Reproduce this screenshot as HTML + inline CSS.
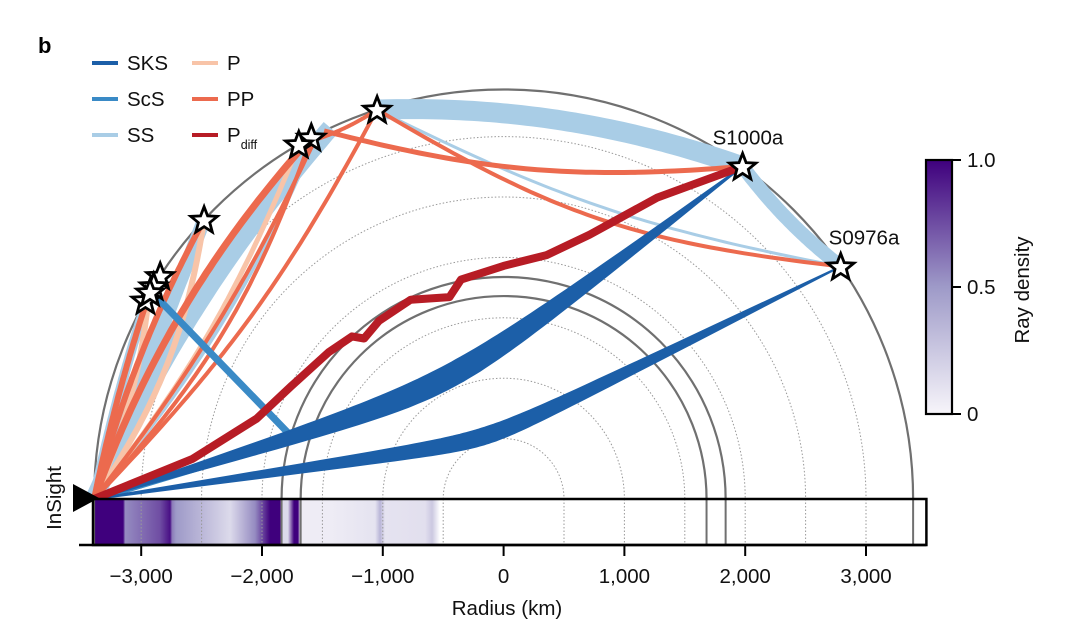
<!DOCTYPE html>
<html><head><meta charset="utf-8">
<style>
body{margin:0;background:#fff;}
svg{display:block;font-family:"Liberation Sans",Arial,sans-serif;}
</style></head>
<body>
<svg id="chart" width="1080" height="642" viewBox="0 0 1080 642" xmlns="http://www.w3.org/2000/svg">
<defs>
<linearGradient id="densGrad" x1="0" x2="1" y1="0" y2="0"></linearGradient>
<linearGradient id="cbGrad" x1="0" x2="0" y1="1" y2="0">
<stop offset="0" stop-color="#f7f5fa"/><stop offset="0.5" stop-color="#9e9ac8"/><stop offset="1" stop-color="#3f007d"/>
</linearGradient>
</defs>
<g id="layers"></g>
</svg>
<script>
// ---- data ----
const R_MARS = 3390;
const coreRadii = [1680, 1838];
const dottedRadii = [500, 1000, 1500, 2000, 2500, 3000];
const xTicks = [-3000, -2000, -1000, 0, 1000, 2000, 3000];
const xTickLabels = ["\u22123,000", "\u22122,000", "\u22121,000", "0", "1,000", "2,000", "3,000"];
const eventNames = ["S1000a", "S0976a"];
const eventAngles = [54.3, 34.6];
const otherEventAngles = [108, 118, 120, 137, 147, 148.7, 151, 149.7];
// rays: phase, start angle (deg), end angle (deg), bottoming radius (km), width
const rayPhase = ["SS","SS","SS","SS","SS","SS","SS","P","P","P","PP","PP","PP","PP","PP","PP","PP","PP","PP"];
const rayFrom  = [108,54.3,180,108,117,180,180,180,180,180,180,108,54.3,108,118,180,180,180,108];
const rayTo    = [54.3,34.6,115,34.6,180,137,150,137,120,150,117,34.6,116,180,180,118,137,150,120];
const rayBottom= [3170,3300,3000,2550,2750,3150,3300,3000,2800,3200,2780,2450,2740,2580,2700,3080,3230,3300,3340];
const rayWidth = [20,14,18,3,4,14,10,6,5,6,4,4,5,4,4,7,6,6,4];
// ScS legs (angle deg, radius km)
const scsAngles = [149.5, 164, 180];
const scsRadii = [3390, 1806, 3390];
// SKS bands: to angle, inner and outer bottoming radius
const sksTo = [54.3, 34.6];
const sksInner = [1020, 480];
const sksOuter = [1200, 610];
// Pdiff path
const pdiffAngles = [180,172.7,162,152,140,133,131,125,115,105,101,90,80,72,63,54.3];
const pdiffRadii  = [3390,2600,2150,1990,1890,1840,1760,1800,1820,1730,1850,1930,2050,2300,2800,3390];
// Ray density profile along radius axis
const densKm  = [-3399,-3150,-3133,-2844,-2761,-2744,-2711,-2512,-2264,-2057,-1933,-1851,-1834,-1785,-1735,-1702,-1685,-1437,-1064,-1022,-981,-650,-592,-527,3500];
const densVal = [1.0,1.0,0.55,0.75,0.95,0.6,0.5,0.35,0.15,0.55,1.0,1.0,0.15,0.15,1.0,1.0,0.05,0.05,0.1,0.35,0.1,0.12,0.25,0,0];
const cbTicks = [0, 0.5, 1.0];
const cbLabels = ["0", "0.5", "1.0"];

// ---- scales ----
const S = 120.8/1000, CX = 503.6, CY = 499;
const xs = km => CX + km*S;
const NS = "http://www.w3.org/2000/svg";
const root = document.getElementById('layers');
const FS = 20.5;
function el(tag, attrs, parent){const e=document.createElementNS(NS,tag);for(const k in attrs)e.setAttribute(k,attrs[k]);(parent||root).appendChild(e);return e;}
function pol(a,r){const t=a*Math.PI/180;return [CX+r*S*Math.cos(t), CY-r*S*Math.sin(t)];}
function rayPts(a1,a2,rb){
  const half=Math.abs(a2-a1)/2*Math.PI/180, mid=(a1+a2)/2*Math.PI/180;
  const k=Math.acos(Math.min(1,rb/R_MARS))/half; const pts=[];
  for(let i=0;i<=60;i++){const th=(a1+(a2-a1)*i/60)*Math.PI/180;const r=rb/Math.cos(k*(th-mid));pts.push([CX+r*S*Math.cos(th),CY-r*S*Math.sin(th)]);}
  return pts;
}
const toD = p => 'M'+p.map(q=>q[0].toFixed(1)+','+q[1].toFixed(1)).join('L');
function lerpColor(v){
  const c=[[247,245,250],[158,154,200],[63,0,125]];
  let a,b,t; if(v<=0.5){a=c[0];b=c[1];t=v/0.5;}else{a=c[1];b=c[2];t=(v-0.5)/0.5;}
  return 'rgb('+a.map((x,i)=>Math.round(x+(b[i]-x)*t)).join(',')+')';
}
const colors={SKS:"#1c5fa8",ScS:"#3a8ac6",SS:"#a9cde6",P:"#f8c4a8",PP:"#ec6a4e",Pdiff:"#b71c25"};

// ---- grid arcs ----
const grid = el('g',{});


dottedRadii.forEach(r=>{
  const p=el('path',{d:`M${xs(-r)},${CY} A${r*S},${r*S} 0 0 1 ${xs(r)},${CY}`,fill:'none',stroke:'#999','stroke-width':1,'stroke-dasharray':'1.5,2'},grid);
  
  
});
coreRadii.concat([R_MARS]).forEach(r=>{
  const p=el('path',{d:`M${xs(-r)},${CY} A${r*S},${r*S} 0 0 1 ${xs(r)},${CY}`,fill:'none',stroke:'#707070','stroke-width':2.2},grid);
  
  
});

// ---- rays ----
const rays = el('g',{fill:'none','stroke-linecap':'butt'});


["SS","P","PP"].forEach(ph=>{
  rayPhase.forEach((p,i)=>{ if(p!==ph) return;
    const e=el('path',{d:toD(rayPts(rayFrom[i],rayTo[i],rayBottom[i])),stroke:colors[p],'stroke-width':rayWidth[i]},rays);
    
    
  });
});
const scs=el('path',{d:toD(scsAngles.map((a,i)=>pol(a,scsRadii[i]))),stroke:colors.ScS,'stroke-width':7,'stroke-linejoin':'miter'},rays);


sksTo.forEach((a,i)=>{
  const p1=rayPts(180,a,sksInner[i]), p2=rayPts(180,a,sksOuter[i]).reverse();
  const e=el('path',{d:toD(p1.concat(p2))+'Z',fill:colors.SKS,stroke:colors.SKS,'stroke-width':2},rays);
  
  
});
const pd=el('path',{d:toD(pdiffAngles.map((a,i)=>pol(a,pdiffRadii[i]))),stroke:colors.Pdiff,'stroke-width':8,'stroke-linejoin':'round'},rays);



// ---- stars ----
function starPath(cx,cy,ro,ri){let d='';for(let i=0;i<10;i++){const r=i%2?ri:ro;const t=-Math.PI/2+i*Math.PI/5;d+=(i?'L':'M')+(cx+r*Math.cos(t)).toFixed(1)+','+(cy+r*Math.sin(t)).toFixed(1);}return d+'Z';}
otherEventAngles.concat(eventAngles).forEach(a=>{
  const [x,y]=pol(a,R_MARS);
  const s=el('path',{d:starPath(x,y+1,14,6),fill:'#fff',stroke:'#000','stroke-width':2.8,'stroke-linejoin':'miter'});
  
  
});
const labelDx=[-30,-12];
eventNames.forEach((n,i)=>{
  const [x,y]=pol(eventAngles[i],R_MARS);
  const t=el('text',{x:x+labelDx[i],y:y-22,'font-size':FS,fill:'#111'});t.textContent=n;
  
  
});

// ---- density bar ----
const grad=document.getElementById('densGrad');
const x0=xs(-3399), x1=xs(3500);
densKm.forEach((k,i)=>{const s=document.createElementNS(NS,'stop');s.setAttribute('offset',((xs(k)-x0)/(x1-x0)).toFixed(4));s.setAttribute('stop-color',densVal[i]<=0?'#ffffff':lerpColor(densVal[i]));grad.appendChild(s);});
const bar=el('rect',{x:x0,y:499,width:x1-x0,height:46,fill:'url(#densGrad)'});


dottedRadii.forEach(r=>[-r,r].forEach(k=>{
  const l=el('line',{x1:xs(k),x2:xs(k),y1:499,y2:545,stroke:'#999','stroke-width':1,'stroke-dasharray':'1.5,2'});
  
  
}));
coreRadii.concat([R_MARS]).forEach(r=>[-r,r].forEach(k=>{
  const l=el('line',{x1:xs(k),x2:xs(k),y1:499,y2:545,stroke:'#707070','stroke-width':2});
  
  
}));
const barFrame=el('rect',{x:x0,y:499,width:x1-x0,height:46,fill:'none',stroke:'#000','stroke-width':2.5});



// ---- x axis ----
const ax=el('line',{x1:79,x2:x1,y1:545,y2:545,stroke:'#000','stroke-width':2.5});


xTicks.forEach((k,i)=>{
  const t=el('line',{x1:xs(k),x2:xs(k),y1:545,y2:556,stroke:'#000','stroke-width':2});
  
  
  const lb=el('text',{x:xs(k),y:583,'font-size':FS,'text-anchor':'middle',fill:'#111'});lb.textContent=xTickLabels[i];
  
  
});
const xt=el('text',{x:507,y:615,'font-size':FS,'text-anchor':'middle',fill:'#111'});xt.textContent='Radius (km)';



const tri=el('path',{d:'M73,484 L99,498 L73,512 Z',fill:'#000'});


const ins=el('text',{x:0,y:0,'font-size':FS,'text-anchor':'middle',fill:'#111',transform:'translate(61,498) rotate(-90)'});ins.textContent='InSight';



// ---- colorbar ----
const cb=el('rect',{x:926,y:160,width:26,height:254,fill:'url(#cbGrad)',stroke:'#000','stroke-width':2.2});


cbTicks.forEach((v,i)=>{
  const y=414-v*254;
  const t=el('line',{x1:952,x2:961,y1:y,y2:y,stroke:'#000','stroke-width':2});
  
  
  const l=el('text',{x:967,y:y+7,'font-size':FS,fill:'#111'});l.textContent=cbLabels[i];
  
  
});
const cbt=el('text',{x:0,y:0,'font-size':FS,'text-anchor':'middle',fill:'#111',transform:'translate(1029,290) rotate(-90)'});cbt.textContent='Ray density';



// ---- panel label & legend ----
const pl=el('text',{x:38,y:53,'font-size':22,'font-weight':'bold',fill:'#000'});pl.textContent='b';


const legNames=["SKS","ScS","SS","P","PP","P"];
const legColors=[colors.SKS,colors.ScS,colors.SS,colors.P,colors.PP,colors.Pdiff];
legNames.forEach((n,i)=>{
  const col=Math.floor(i/3), row=i%3;
  const lx=col?192:92, y=63+row*36;
  const g=el('g',{});
  
  
  el('line',{x1:lx,x2:lx+26,y1:y,y2:y,stroke:legColors[i],'stroke-width':4},g);
  const t=el('text',{x:lx+35,y:y+7,'font-size':FS,fill:'#111'},g);t.textContent=n;
  if(i===5){const s=el('tspan',{'font-size':12.5,dy:7},t);s.textContent='diff';}
});
</script>
</body></html>
